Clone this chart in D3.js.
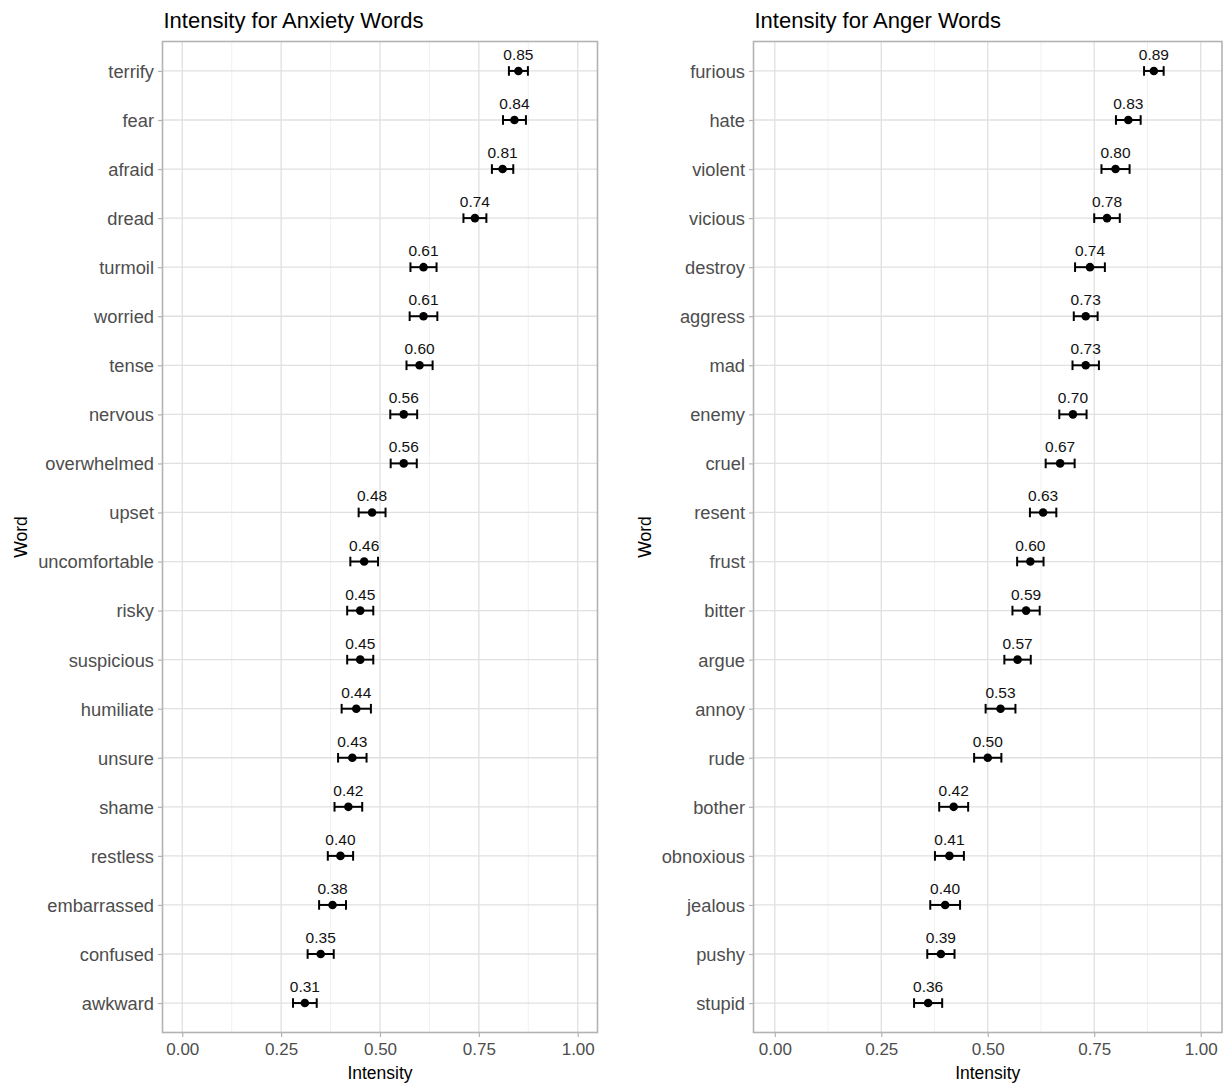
<!DOCTYPE html>
<html>
<head>
<meta charset="utf-8">
<script src="https://cdn.jsdelivr.net/npm/d3@7"></script>
<style>
  html, body { margin: 0; padding: 0; background: #fff; }
  svg { display: block; font-family: "Liberation Sans", Arial, Helvetica, sans-serif; }
</style>
</head>
<body>
<svg id="chart" width="1229" height="1085"></svg>
<script>
// Anxiety words: mean intensity and half-width of the error bar
const anxietyWords = ["terrify", "fear", "afraid", "dread", "turmoil", "worried", "tense", "nervous",
  "overwhelmed", "upset", "uncomfortable", "risky", "suspicious", "humiliate", "unsure", "shame",
  "restless", "embarrassed", "confused", "awkward"];
const anxietyMeans = [0.85, 0.84, 0.81, 0.74, 0.61, 0.61, 0.60, 0.56, 0.56, 0.48, 0.46, 0.45, 0.45,
  0.44, 0.43, 0.42, 0.40, 0.38, 0.35, 0.31];
const anxietyErr = [0.024, 0.029, 0.027, 0.029, 0.033, 0.035, 0.033, 0.034, 0.033, 0.034, 0.035,
  0.033, 0.033, 0.037, 0.036, 0.035, 0.032, 0.034, 0.033, 0.030];

// Anger words: mean intensity and half-width of the error bar
const angerWords = ["furious", "hate", "violent", "vicious", "destroy", "aggress", "mad", "enemy",
  "cruel", "resent", "frust", "bitter", "argue", "annoy", "rude", "bother", "obnoxious", "jealous",
  "pushy", "stupid"];
const angerMeans = [0.89, 0.83, 0.80, 0.78, 0.74, 0.73, 0.73, 0.70, 0.67, 0.63, 0.60, 0.59, 0.57,
  0.53, 0.50, 0.42, 0.41, 0.40, 0.39, 0.36];
const angerErr = [0.023, 0.029, 0.033, 0.030, 0.035, 0.028, 0.031, 0.032, 0.034, 0.031, 0.031,
  0.032, 0.031, 0.035, 0.032, 0.034, 0.034, 0.035, 0.032, 0.033];

const xTicks = [0, 0.25, 0.5, 0.75, 1];
const xMinor = [0.125, 0.375, 0.625, 0.875];

const svg = d3.select("#chart");
const panelTop = 41.5, panelBottom = 1032.5;

function drawPanel(cfg) {
  const { title, words, means, errs, left, right, yTitleX } = cfg;
  const rows = words.map((w, i) => ({ word: w, mean: means[i], err: errs[i] }));

  const x = d3.scaleLinear().domain([-0.05, 1.05]).range([left, right]);
  const y = d3.scalePoint().domain(words).range([panelTop, panelBottom]).padding(0.6);

  const g = svg.append("g");

  // minor grid
  g.selectAll(".minor").data(xMinor).join("line")
    .attr("x1", d => x(d)).attr("x2", d => x(d))
    .attr("y1", panelTop).attr("y2", panelBottom)
    .attr("stroke", "#ededed").attr("stroke-width", 0.8);
  // major grid
  g.selectAll(".vmajor").data(xTicks).join("line")
    .attr("x1", d => x(d)).attr("x2", d => x(d))
    .attr("y1", panelTop).attr("y2", panelBottom)
    .attr("stroke", "#e0e0e0").attr("stroke-width", 1.3);
  g.selectAll(".hmajor").data(words).join("line")
    .attr("x1", left).attr("x2", right)
    .attr("y1", d => y(d)).attr("y2", d => y(d))
    .attr("stroke", "#e0e0e0").attr("stroke-width", 1.3);

  // border
  g.append("rect")
    .attr("x", left).attr("y", panelTop)
    .attr("width", right - left).attr("height", panelBottom - panelTop)
    .attr("fill", "none").attr("stroke", "#b3b3b3").attr("stroke-width", 1.6);

  // y axis
  const yAxis = d3.axisLeft(y).tickSize(4.5).tickPadding(4);
  const ya = g.append("g").attr("transform", `translate(${left},0)`).call(yAxis);
  ya.select(".domain").remove();
  ya.selectAll(".tick line").attr("stroke", "#b3b3b3").attr("stroke-width", 1.2);
  ya.selectAll(".tick text").attr("fill", "#4d4d4d").style("font-size", "18.3px")
    .attr("dy", "0.35em");

  // x axis
  const xAxis = d3.axisBottom(x).tickValues(xTicks).tickFormat(d3.format(".2f"))
    .tickSize(4.5).tickPadding(4);
  const xa = g.append("g").attr("transform", `translate(0,${panelBottom})`).call(xAxis);
  xa.select(".domain").remove();
  xa.selectAll(".tick line").attr("stroke", "#b3b3b3").attr("stroke-width", 1.2);
  xa.selectAll(".tick text").attr("fill", "#4d4d4d").style("font-size", "17px")
    .attr("dy", "0.85em");

  // error bars
  const eb = g.selectAll(".eb").data(rows).join("g");
  eb.append("line")
    .attr("x1", d => x(d.mean - d.err)).attr("x2", d => x(d.mean + d.err))
    .attr("y1", d => y(d.word)).attr("y2", d => y(d.word))
    .attr("stroke", "#000").attr("stroke-width", 2);
  eb.append("line")
    .attr("x1", d => x(d.mean - d.err)).attr("x2", d => x(d.mean - d.err))
    .attr("y1", d => y(d.word) - 4.8).attr("y2", d => y(d.word) + 4.8)
    .attr("stroke", "#000").attr("stroke-width", 2);
  eb.append("line")
    .attr("x1", d => x(d.mean + d.err)).attr("x2", d => x(d.mean + d.err))
    .attr("y1", d => y(d.word) - 4.8).attr("y2", d => y(d.word) + 4.8)
    .attr("stroke", "#000").attr("stroke-width", 2);

  // points
  g.selectAll(".pt").data(rows).join("circle")
    .attr("cx", d => x(d.mean)).attr("cy", d => y(d.word))
    .attr("r", 4.3).attr("fill", "#000");

  // value labels
  g.selectAll(".val").data(rows).join("text")
    .attr("x", d => x(d.mean)).attr("y", d => y(d.word) - 11)
    .attr("text-anchor", "middle")
    .style("font-size", "15.5px").attr("fill", "#111")
    .text(d => d3.format(".2f")(d.mean));

  // titles
  g.append("text").attr("x", left + 1).attr("y", 27.5)
    .style("font-size", "22px").attr("fill", "#000").text(title);
  g.append("text").attr("x", (left + right) / 2).attr("y", 1079)
    .attr("text-anchor", "middle").style("font-size", "17.5px").attr("fill", "#000")
    .text("Intensity");
  g.append("text")
    .attr("transform", `translate(${yTitleX},${(panelTop + panelBottom) / 2}) rotate(-90)`)
    .attr("text-anchor", "middle").style("font-size", "17.5px").attr("fill", "#000")
    .text("Word");
}

drawPanel({ title: "Intensity for Anxiety Words", words: anxietyWords, means: anxietyMeans,
  errs: anxietyErr, left: 162.5, right: 597.5, yTitleX: 27 });
drawPanel({ title: "Intensity for Anger Words", words: angerWords, means: angerMeans,
  errs: angerErr, left: 753.5, right: 1222, yTitleX: 651 });
</script>
</body>
</html>
